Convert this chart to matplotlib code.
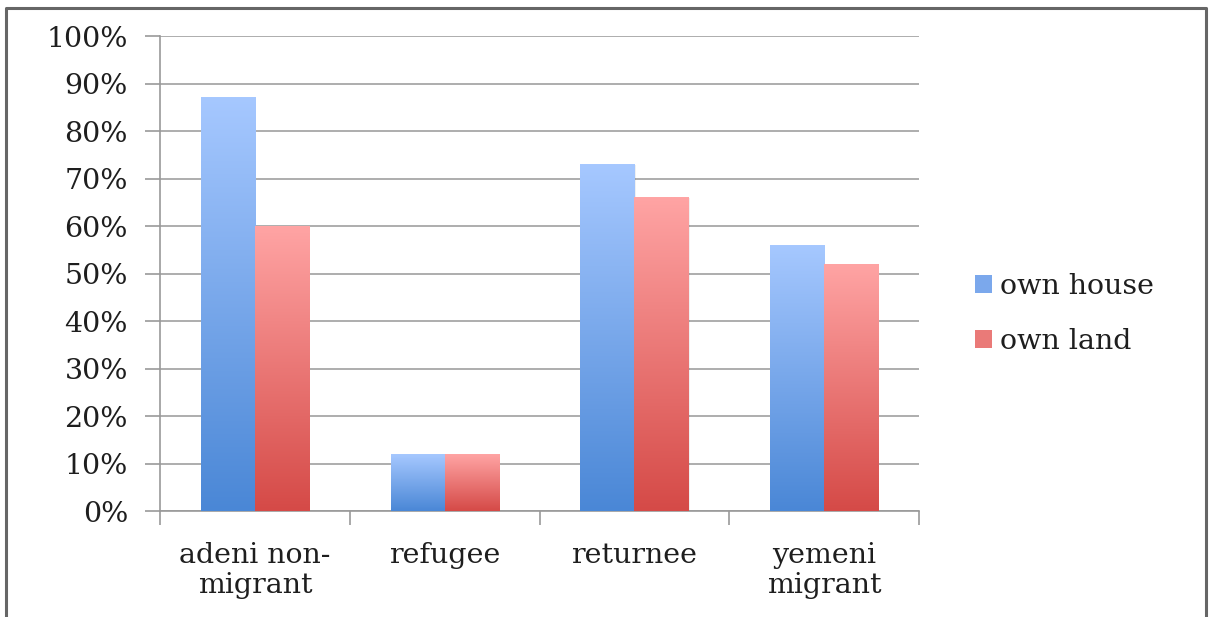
import numpy as np
import matplotlib
matplotlib.use("Agg")
import matplotlib.pyplot as plt
from matplotlib.patches import Patch
from matplotlib.lines import Line2D
from matplotlib.colors import to_rgb

categories = ["adeni non-\nmigrant", "refugee", "returnee", "yemeni\nmigrant"]
own_house = [0.87, 0.12, 0.73, 0.56]
own_land = [0.60, 0.12, 0.66, 0.52]
series_names = ["own house", "own land"]
yticks = [0.0, 0.1, 0.2, 0.3, 0.4, 0.5, 0.6, 0.7, 0.8, 0.9, 1.0]
ytick_labels = ["0%", "10%", "20%", "30%", "40%", "50%", "60%", "70%", "80%", "90%", "100%"]

blue_top, blue_bot = "#A6C8FF", "#4A87D6"
red_top, red_bot = "#FFA4A4", "#D54A47"

plt.rcParams['font.family'] = ['DejaVu Serif']
FS = 20.5
TC = "#1e1e1e"
W, H = 1210, 617
fig = plt.figure(figsize=(W / 100, H / 100), dpi=100)
ax = fig.add_axes([160 / W, 1 - 511 / H, (919 - 160) / W, (511 - 36) / H])

x = np.arange(len(categories))
bw = 0.285
b1 = ax.bar(x - bw / 2, own_house, bw, facecolor="none", edgecolor="none", zorder=3)
b2 = ax.bar(x + bw / 2, own_land, bw, facecolor="none", edgecolor="none", zorder=3)


def grad(top, bot, n=256):
    t = np.linspace(0, 1, n)[:, None]
    c1 = np.array(to_rgb(top)); c2 = np.array(to_rgb(bot))
    return (c1 * (1 - t) + c2 * t).reshape(n, 1, 3)


for bars, (ct, cb) in [(b1, (blue_top, blue_bot)), (b2, (red_top, red_bot))]:
    for r in bars:
        x0, y0, w, h = r.get_x(), r.get_y(), r.get_width(), r.get_height()
        ax.add_patch(plt.Rectangle((x0 + 0.006, y0), w, h - 0.002, facecolor="#000000",
                                   alpha=0.06, edgecolor="none", zorder=2))
        ax.imshow(grad(ct, cb), extent=(x0, x0 + w, y0, y0 + h), aspect="auto",
                  zorder=3, interpolation="bilinear")

ax.set_xlim(-0.5, len(categories) - 0.5)
ax.set_ylim(0, 1.0)
ax.set_yticks(yticks)
ax.set_yticklabels(ytick_labels, fontsize=FS, color=TC)
ax.set_xticks(x)
ax.set_xticklabels(categories, fontsize=FS, color=TC, linespacing=1.17)
ax.set_xticks(np.arange(len(categories) + 1) - 0.5, minor=True)
ax.tick_params(axis="x", which="major", length=0, pad=22)
ax.tick_params(axis="x", which="minor", length=10, color="#999999", width=1.2)
ax.tick_params(axis="y", length=11, color="#999999", width=1.2, pad=12)
ax.grid(axis="y", color="#A0A0A0", linewidth=1.2, zorder=0)
ax.set_axisbelow(True)
for s in ["top", "right"]:
    ax.spines[s].set_visible(False)
for s in ["left", "bottom"]:
    ax.spines[s].set_color("#999999")
    ax.spines[s].set_linewidth(1.2)

handles = [Patch(facecolor="#7BA8EC", edgecolor="none"), Patch(facecolor="#EA7A78", edgecolor="none")]
fig.legend(handles, series_names, loc="center left", bbox_to_anchor=(949 / W, 1 - 314 / H),
           frameon=False, fontsize=FS, handlelength=0.6, handleheight=0.6,
           handletextpad=0.3, labelspacing=1.0, labelcolor=TC)

fig.add_artist(Line2D([6 / W, 6 / W, 1206 / W, 1206 / W], [0, 1 - 8 / H, 1 - 8 / H, 0],
                      transform=fig.transFigure, color="#666666", linewidth=2.2))

fig.savefig("out.png", dpi=100)
